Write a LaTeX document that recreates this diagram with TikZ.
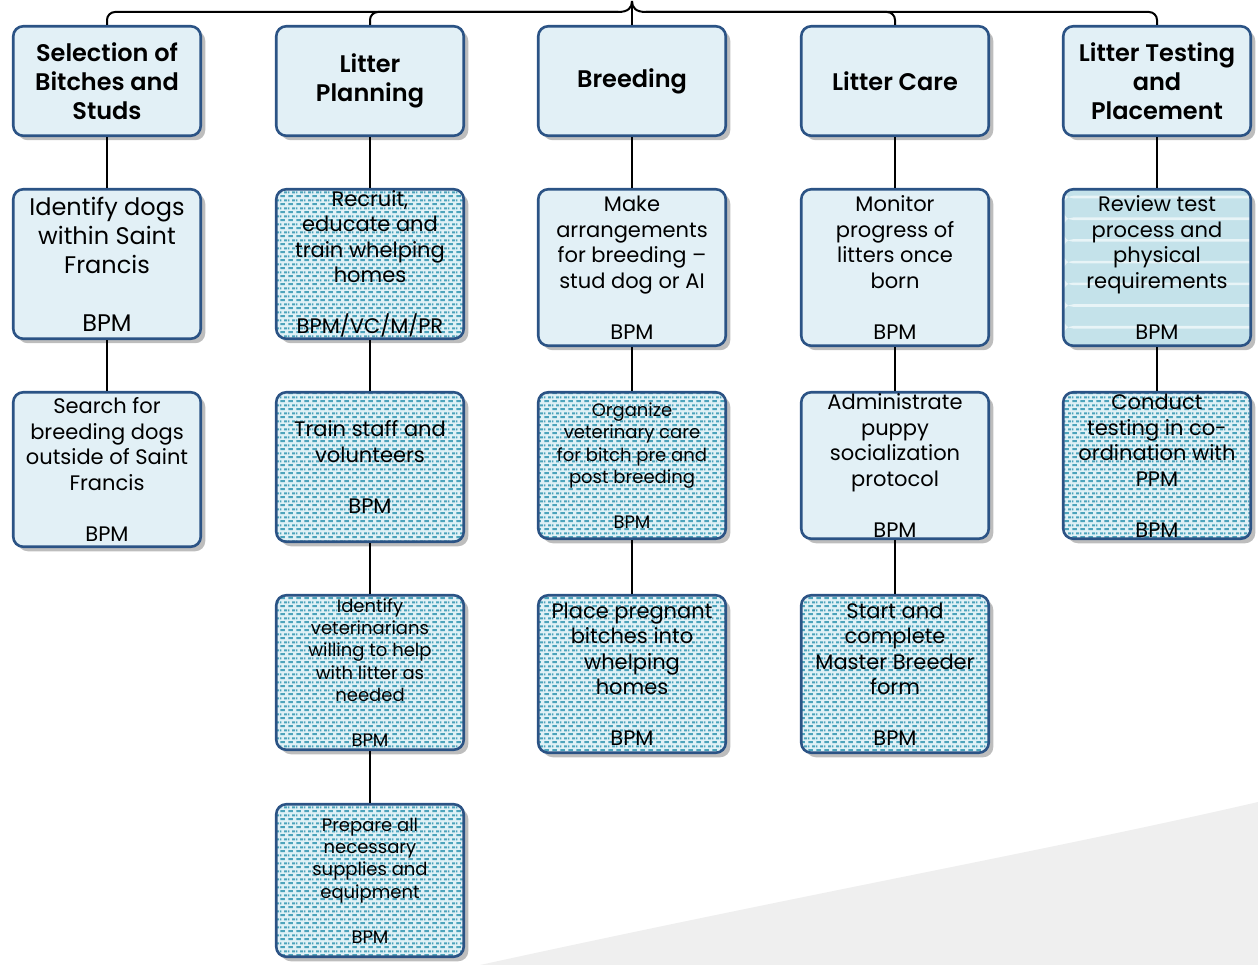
\documentclass[tikz,border=0pt]{standalone}
\usepackage{fontspec}
\IfFontExistsTF{Poppins SemiBold}
  {\setmainfont{Poppins}[BoldFont={Poppins SemiBold}]}
  {\setmainfont{Poppins}}
\usetikzlibrary{patterns.meta,shadows,calc}

\definecolor{bord}{HTML}{2B5385}
\definecolor{hdrfill}{HTML}{E2F0F6}
\definecolor{patbg}{HTML}{E0F1F6}
\definecolor{patfg}{HTML}{4CA3BB}
\definecolor{stripebg}{HTML}{C4E2EA}
\definecolor{stripefg}{HTML}{E8F4F7}
\definecolor{shade}{HTML}{BDBDBD}
\definecolor{backdrop}{HTML}{EFEFEF}

% staggered short dashes used for the shaded task boxes
\tikzdeclarepattern{
  name=bpmdots, type=uncolored,
  bottom left={(0pt,0pt)}, top right={(8pt,8.2pt)}, tile size={(8pt,8.2pt)},
  code={
    \pgfpathrectangle{\pgfpoint{0.5pt}{0.9pt}}{\pgfpoint{5pt}{2.3pt}}
    \pgfpathrectangle{\pgfpoint{4.5pt}{5pt}}{\pgfpoint{3.5pt}{2.3pt}}
    \pgfpathrectangle{\pgfpoint{0pt}{5pt}}{\pgfpoint{1.5pt}{2.3pt}}
    \pgfusepath{fill}
  }
}

\tikzset{
  box/.style={draw=bord, line width=2.6pt, rounded corners=10pt,
    minimum width=187.5pt, align=center, inner sep=0pt, text=black,
    drop shadow={shadow xshift=4.5pt, shadow yshift=-4.5pt, fill=shade, opacity=1}},
  hdr/.style={box, fill=hdrfill, font=\fontsize{24}{29}\selectfont\bfseries, minimum height=109.5pt},
  plain/.style={box, fill=hdrfill},
  dotbox/.style={box, preaction={fill=patbg}, pattern=bpmdots, pattern color=patfg},
  stripebox/.style={box, fill=stripebg,
    path picture={
      \foreach \k in {0,...,7}
        \fill[stripefg] ($(path picture bounding box.north west)+(0,6.5+21.7*\k)$) rectangle ++(200,2.6);
    }},
  big/.style={font=\fontsize{24}{29}\selectfont},
  mid/.style={font=\fontsize{21}{25.5}\selectfont},
  small/.style={font=\fontsize{18}{22.4}\selectfont},
  conn/.style={draw=black, line width=2pt},
}

\begin{document}
\begin{tikzpicture}[x=1pt, y=-1pt]
\useasboundingbox (0,0) rectangle (1258,965);

% pale backdrop in the lower right corner
\fill[backdrop] (480,965) .. controls (800,895) and (1050,850) .. (1258,802) -- (1258,965) -- cycle;

% column headers
\node[hdr] (h1) at (107,81) {Selection of\\Bitches and\\Studs};
\node[hdr] (h2) at (370,81) {Litter\\Planning};
\node[hdr] (h3) at (632,81) {Breeding};
\node[hdr] (h4) at (895,81) {Litter Care};
\node[hdr] (h5) at (1157,81) {Litter Testing\\and\\Placement};

% selection of bitches and studs
\node[plain, big, minimum height=149.5pt] (a1) at (107,264) {Identify dogs\\within Saint\\Francis\\\mbox{}\\BPM};
\node[plain, mid, minimum height=154.5pt] (a2) at (107,469.5) {Search for\\breeding dogs\\outside of Saint\\Francis\\\mbox{}\\BPM};

% litter planning
\node[dotbox, mid, minimum height=149.5pt] (b1) at (370,264) {Recruit,\\educate and\\train whelping\\homes\\\mbox{}\\BPM/VC/M/PR};
\node[dotbox, mid, minimum height=149.5pt] (b2) at (370,467) {Train staff and\\volunteers\\\mbox{}\\BPM};
\node[dotbox, small, minimum height=154.5pt] (b3) at (370,672.5) {Identify\\veterinarians\\willing to help\\with litter as\\needed\\\mbox{}\\BPM};
\node[dotbox, small, minimum height=152.5pt] (b4) at (370,880.5) {Prepare all\\necessary\\supplies and\\equipment\\\mbox{}\\BPM};

% breeding
\node[plain, mid, minimum height=156.5pt] (c1) at (632,267.5) {Make\\arrangements\\for breeding –\\stud dog or AI\\\mbox{}\\BPM};
\node[dotbox, small, minimum height=146.5pt] (c2) at (632,465.5) {Organize\\veterinary care\\for bitch pre and\\post breeding\\\mbox{}\\BPM};
\node[dotbox, mid, minimum height=157.5pt] (c3) at (632,674) {Place pregnant\\bitches into\\whelping\\homes\\\mbox{}\\BPM};

% litter care
\node[plain, mid, minimum height=156.5pt] (d1) at (895,267.5) {Monitor\\progress of\\litters once\\born\\\mbox{}\\BPM};
\node[plain, mid, minimum height=146.5pt] (d2) at (895,465.5) {Administrate\\puppy\\socialization\\protocol\\\mbox{}\\BPM};
\node[dotbox, mid, minimum height=157.5pt] (d3) at (895,674) {Start and\\complete\\Master Breeder\\form\\\mbox{}\\BPM};

% litter testing and placement
\node[stripebox, mid, minimum height=156.5pt] (e1) at (1157,267.5) {Review test\\process and\\physical\\requirements\\\mbox{}\\BPM};
\node[dotbox, mid, minimum height=146.5pt] (e2) at (1157,465.5) {Conduct\\testing in co-\\ordination with\\PPM\\\mbox{}\\BPM};

% top bracket joining the five columns
\coordinate (apex) at (632,1);
\coordinate (barL) at (618,12);
\coordinate (barR) at (646,12);
\draw[conn, rounded corners=8pt] (h1.north) |- (barL);
\draw[conn, rounded corners=8pt] (h2.north) |- (barL);
\draw[conn, rounded corners=8pt] (h5.north) |- (barR);
\draw[conn, rounded corners=8pt] (h4.north) |- (barR);
\draw[conn] (barL) .. controls (628,12) and (632,8) .. (apex);
\draw[conn] (barR) .. controls (636,12) and (632,8) .. (apex);
\draw[conn] (apex) -- (h3.north);

% vertical links within each column
\draw[conn] (h1) -- (a1); \draw[conn] (a1) -- (a2);
\draw[conn] (h2) -- (b1); \draw[conn] (b1) -- (b2); \draw[conn] (b2) -- (b3); \draw[conn] (b3) -- (b4);
\draw[conn] (h3) -- (c1); \draw[conn] (c1) -- (c2); \draw[conn] (c2) -- (c3);
\draw[conn] (h4) -- (d1); \draw[conn] (d1) -- (d2); \draw[conn] (d2) -- (d3);
\draw[conn] (h5) -- (e1); \draw[conn] (e1) -- (e2);
\end{tikzpicture}
\end{document}
